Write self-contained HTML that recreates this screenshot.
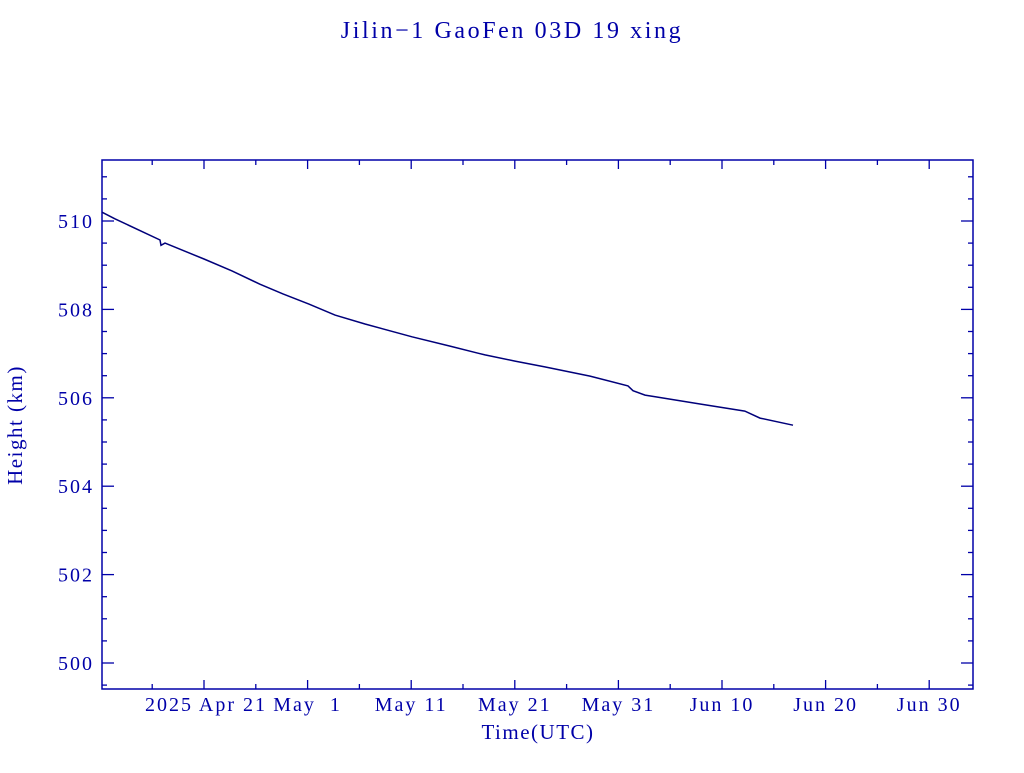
<!DOCTYPE html>
<html><head><meta charset="utf-8"><style>
body{margin:0;background:#fff}
svg text{font-family:"Liberation Serif",serif;fill:#0000a8}
</style></head><body>
<svg width="1024" height="768" xmlns="http://www.w3.org/2000/svg">
<text x="512" y="38" text-anchor="middle" font-size="24" letter-spacing="2.6">Jilin−1 GaoFen 03D 19 xing</text>
<rect x="102" y="160" width="871" height="529" fill="none" stroke="#0000a8" stroke-width="1.5"/>
<g id="ticks"></g>
<path id="line" fill="none" stroke="#00007a" stroke-width="1.5"/>
<text transform="translate(22,425) rotate(-90)" text-anchor="middle" font-size="21" letter-spacing="1.5">Height (km)</text>
<text x="538" y="739" text-anchor="middle" font-size="21" letter-spacing="1.5">Time(UTC)</text>
</svg>
<script>
// days offset from 2025 Apr 21
const days=[-9.85,-8.6,-4.25,-4.15,-3.76,0,2.7,5.4,7.63,10.13,12.64,15.54,20.08,23.75,26.45,27.12,30.02,32.9,37.26,40.93,41.41,42.57,43.63,47.88,52.2,53.67,56.85];
const heights=[510.2,510.05,509.57,509.45,509.5,509.14,508.87,508.57,508.35,508.12,507.87,507.67,507.38,507.17,507.01,506.97,506.83,506.7,506.49,506.27,506.16,506.06,506.02,505.86,505.7,505.54,505.38];
const yTicks=[500,502,504,506,508,510];
const xTickDays=[0,10,20,30,40,50,60,70];
const xTickLabels=["2025 Apr 21","May  1","May 11","May 21","May 31","Jun 10","Jun 20","Jun 30"];
const X=d=>204+d*10.36, Y=h=>663-(h-500)*44.2;
const ns="http://www.w3.org/2000/svg", g=document.getElementById('ticks');
function ln(x1,y1,x2,y2,n){const l=document.createElementNS(ns,'line');
l.setAttribute('x1',x1);l.setAttribute('y1',y1);l.setAttribute('x2',x2);l.setAttribute('y2',y2);
l.setAttribute('stroke','#0000a8');l.setAttribute('stroke-width','1.3');

g.appendChild(l);}
function tx(x,y,s,a,n){const t=document.createElementNS(ns,'text');t.setAttribute('x',x);t.setAttribute('y',y);
t.setAttribute('text-anchor',a);t.setAttribute('font-size','20');t.setAttribute('letter-spacing','2');
t.setAttribute('xml:space','preserve');t.style.whiteSpace='pre';t.textContent=s;

g.appendChild(t);}
for(let h=499.5;h<=511.3;h+=0.5){const y=Y(h);const major=Math.abs(h-Math.round(h/2)*2)<1e-6;const L=major?12:5;
ln(102,y,102+L,y,'y-tick');ln(973,y,973-L,y,'y-tick');}
yTicks.forEach(h=>tx(94,Y(h)+7,String(h),'end','y-tick-label'));
for(let d=-5;d<=75;d+=5){const x=X(d);if(x<102||x>973)continue;const L=(d%10===0)?9:5;
ln(x,689,x,689-L,'x-tick');ln(x,160,x,160+L,'x-tick');}
xTickDays.forEach((d,i)=>{const x=X(d);const s=xTickLabels[i];
if(i===0) tx(x+63,711,s,'end','x-tick-label'); else tx(x,711,s,'middle','x-tick-label');});
document.getElementById('line').setAttribute('d',days.map((d,i)=>(i?'L':'M')+X(d).toFixed(1)+','+Y(heights[i]).toFixed(1)).join(''));
</script>
</body></html>
